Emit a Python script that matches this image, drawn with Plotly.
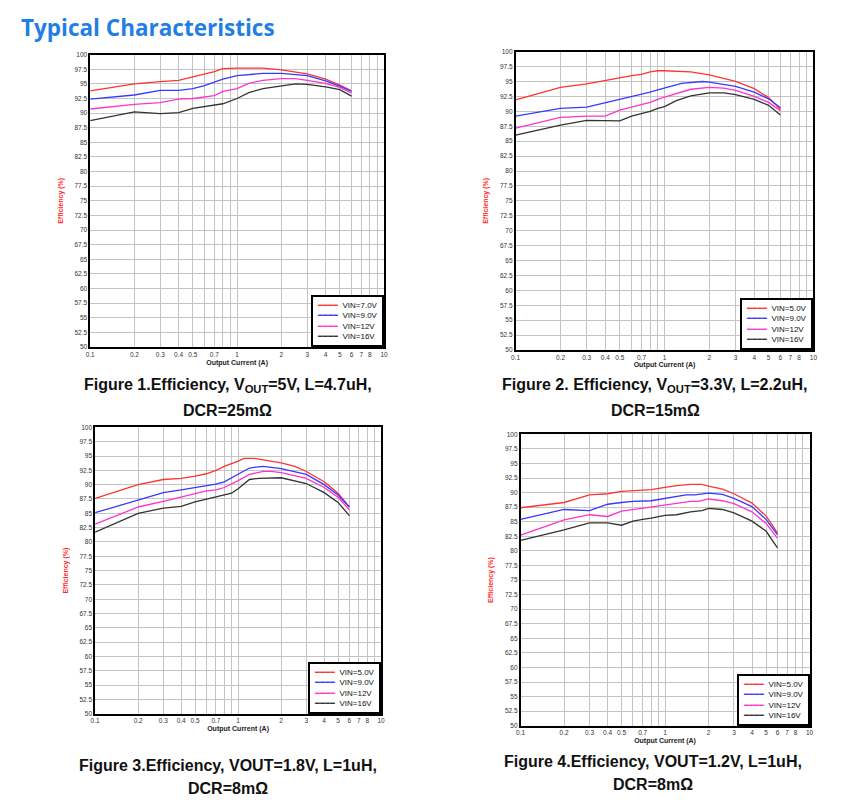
import plotly.graph_objects as go

# ---- data ----
legend_names_1 = ['VIN=7.0V', 'VIN=9.0V', 'VIN=12V', 'VIN=16V']
legend_names = ['VIN=5.0V', 'VIN=9.0V', 'VIN=12V', 'VIN=16V']

# Figure 1, Vout=5V
f1_x_red = [0.1, 0.2, 0.3, 0.4, 0.5, 0.7, 0.8, 1, 1.5, 2, 3, 4, 5, 6]
f1_y_red = [93.8, 95.0, 95.4, 95.6, 96.2, 97.1, 97.6, 97.7, 97.7, 97.4, 96.7, 95.8, 94.8, 93.8]
f1_x_blue = [0.1, 0.2, 0.3, 0.4, 0.5, 0.6, 0.7, 0.8, 1, 1.5, 2, 3, 4, 5, 6]
f1_y_blue = [92.4, 93.1, 93.9, 93.9, 94.2, 94.7, 95.3, 95.8, 96.4, 96.8, 96.8, 96.4, 95.5, 94.6, 93.7]
f1_x_mag = [0.1, 0.2, 0.3, 0.4, 0.5, 0.7, 0.8, 1, 1.2, 1.5, 2, 2.5, 3, 4, 5, 6]
f1_y_mag = [90.7, 91.5, 91.8, 92.4, 92.5, 93.0, 93.7, 94.2, 95.1, 95.6, 95.9, 95.9, 95.6, 95.1, 94.4, 93.4]
f1_x_blk = [0.1, 0.2, 0.3, 0.4, 0.5, 0.7, 0.8, 1, 1.2, 1.5, 2, 2.5, 3, 4, 5, 6]
f1_y_blk = [88.7, 90.2, 89.9, 90.1, 90.8, 91.4, 91.6, 92.5, 93.5, 94.2, 94.7, 95.0, 94.9, 94.5, 94.0, 92.9]

# Figure 2, Vout=3.3V
f2_x_red = [0.1, 0.2, 0.3, 0.4, 0.5, 0.6, 0.7, 0.8, 0.9, 1, 1.5, 2, 3, 4, 5, 6]
f2_y_red = [91.9, 94.0, 94.6, 95.1, 95.6, 96.0, 96.2, 96.6, 96.8, 96.8, 96.6, 96.1, 95.0, 93.8, 92.3, 90.3]
f2_x_blue = [0.1, 0.2, 0.3, 0.4, 0.5, 0.7, 0.8, 0.9, 1, 1.3, 1.8, 2, 3, 4, 5, 6]
f2_y_blue = [89.2, 90.5, 90.7, 91.4, 92.0, 92.8, 93.2, 93.6, 93.9, 94.7, 95.0, 94.9, 94.2, 93.2, 92.1, 90.6]
f2_x_mag = [0.1, 0.2, 0.3, 0.4, 0.5, 0.6, 0.7, 0.8, 0.9, 1, 1.5, 2, 2.5, 3, 4, 5, 6]
f2_y_mag = [87.2, 89.0, 89.2, 89.2, 90.2, 90.7, 91.1, 91.5, 92.0, 92.4, 93.7, 94.0, 93.9, 93.5, 92.5, 91.5, 90.1]
f2_x_blk = [0.1, 0.2, 0.3, 0.4, 0.5, 0.6, 0.7, 0.8, 0.9, 1, 1.2, 1.5, 2, 2.5, 3, 4, 5, 6]
f2_y_blk = [86.0, 87.7, 88.5, 88.4, 88.4, 89.2, 89.6, 90.0, 90.5, 90.8, 91.8, 92.6, 93.1, 93.1, 92.8, 92.0, 91.0, 89.4]

# Figure 3, Vout=1.8V
f3_x_red = [0.1, 0.2, 0.3, 0.4, 0.5, 0.6, 0.7, 0.8, 1, 1.1, 1.3, 1.6, 2, 2.5, 3, 4, 5, 6]
f3_y_red = [87.6, 90.0, 90.9, 91.1, 91.5, 91.9, 92.5, 93.2, 94.1, 94.6, 94.6, 94.2, 93.8, 93.2, 92.3, 90.5, 88.5, 86.1]
f3_x_blue = [0.1, 0.2, 0.3, 0.4, 0.5, 0.7, 0.8, 1, 1.2, 1.5, 2, 3, 4, 5, 6]
f3_y_blue = [85.1, 87.3, 88.6, 89.1, 89.5, 90.1, 90.5, 91.8, 92.9, 93.2, 92.8, 91.8, 90.0, 88.2, 86.1]
f3_x_mag = [0.1, 0.2, 0.3, 0.4, 0.5, 0.6, 0.7, 0.8, 1, 1.2, 1.5, 1.7, 2, 3, 4, 5, 6]
f3_y_mag = [83.1, 86.1, 87.1, 87.8, 88.4, 88.9, 89.1, 89.5, 90.7, 91.8, 92.3, 92.3, 92.1, 91.1, 89.5, 87.8, 85.6]
f3_x_blk = [0.1, 0.2, 0.3, 0.4, 0.5, 0.7, 0.8, 0.9, 1, 1.2, 1.4, 2, 3, 4, 5, 6]
f3_y_blk = [81.7, 85.0, 85.9, 86.2, 87.0, 87.9, 88.2, 88.5, 89.3, 90.9, 91.1, 91.2, 90.2, 88.6, 86.9, 84.6]

# Figure 4, Vout=1.2V
f4_x_red = [0.1, 0.2, 0.3, 0.4, 0.5, 0.7, 0.8, 1, 1.2, 1.5, 1.8, 2, 2.5, 3, 4, 5, 6]
f4_y_red = [87.4, 88.3, 89.6, 89.8, 90.2, 90.5, 90.5, 90.9, 91.2, 91.4, 91.4, 91.1, 90.6, 89.8, 88.2, 86.0, 83.1]
f4_x_blue = [0.1, 0.2, 0.3, 0.4, 0.5, 0.6, 0.8, 1, 1.2, 1.4, 1.6, 2, 2.5, 3, 4, 5, 6]
f4_y_blue = [85.4, 87.1, 86.9, 88.0, 88.3, 88.5, 88.6, 89.0, 89.2, 89.6, 89.6, 89.9, 89.7, 89.0, 87.6, 85.4, 82.8]
f4_x_mag = [0.1, 0.2, 0.3, 0.4, 0.5, 0.7, 0.8, 1, 1.5, 1.7, 2, 2.5, 3, 4, 5, 6]
f4_y_mag = [82.7, 85.3, 86.2, 85.9, 86.8, 87.3, 87.5, 87.8, 88.5, 88.5, 88.9, 88.6, 88.1, 86.7, 84.7, 82.2]
f4_x_blk = [0.1, 0.2, 0.3, 0.4, 0.5, 0.6, 0.7, 0.8, 1, 1.2, 1.5, 1.8, 2, 2.5, 3, 4, 5, 6]
f4_y_blk = [81.8, 83.6, 84.8, 84.8, 84.4, 85.1, 85.4, 85.6, 86.1, 86.2, 86.7, 86.9, 87.3, 87.1, 86.5, 85.1, 83.4, 80.5]

# labelled x ticks, plus unlabelled gridline positions
x_tickvals = [0.1, 0.2, 0.3, 0.4, 0.5, 0.7, 1, 2, 3, 4, 5, 6, 7, 8, 10]
x_ticktext = ['0.1', '0.2', '0.3', '0.4', '0.5', '0.7', '1', '2', '3', '4', '5', '6', '7', '8', '10']
x_grid_only = [0.6, 0.8, 0.9, 9]
y_tickvals = [50 + 2.5 * i for i in range(21)]
y_ticktext = ['50', '52.5', '55', '57.5', '60', '62.5', '65', '67.5', '70', '72.5', '75',
              '77.5', '80', '82.5', '85', '87.5', '90', '92.5', '95', '97.5', '100']

captions = [
    ('Figure 1.Efficiency, V<sub>OUT</sub>=5V, L=4.7uH,', 'DCR=25mΩ'),
    ('Figure 2. Efficiency, V<sub>OUT</sub>=3.3V, L=2.2uH,', 'DCR=15mΩ'),
    ('Figure 3.Efficiency, VOUT=1.8V, L=1uH,', 'DCR=8mΩ'),
    ('Figure 4.Efficiency, VOUT=1.2V, L=1uH,', 'DCR=8mΩ'),
]

colors = ['#FF3333', '#3838FF', '#FF33CC', '#333333']

# page body has an 8px margin, so lay out in reference pixels minus that
OFF = 8
W, H = 861 - OFF, 812 - OFF
# plot boxes in reference pixels: left, right, top, bottom
boxes = [(86, 383, 51, 346), (516, 817, 48, 349), (91, 380, 427, 716), (521, 813, 434, 728)]
caption_pos = [(225, 385, 410), (657, 385, 410), (225, 768, 791), (655, 764, 787)]


def px(x):
    return (x - OFF) / W


def py(y):
    return 1 - (y - OFF) / H


series = [
    (legend_names_1, [(f1_x_red, f1_y_red), (f1_x_blue, f1_y_blue), (f1_x_mag, f1_y_mag), (f1_x_blk, f1_y_blk)]),
    (legend_names, [(f2_x_red, f2_y_red), (f2_x_blue, f2_y_blue), (f2_x_mag, f2_y_mag), (f2_x_blk, f2_y_blk)]),
    (legend_names, [(f3_x_red, f3_y_red), (f3_x_blue, f3_y_blue), (f3_x_mag, f3_y_mag), (f3_x_blk, f3_y_blk)]),
    (legend_names, [(f4_x_red, f4_y_red), (f4_x_blue, f4_y_blue), (f4_x_mag, f4_y_mag), (f4_x_blk, f4_y_blk)]),
]

fig = go.Figure()
layout = {}
annotations = []
tick_font = dict(size=6.5, color='#333333', family='Liberation Sans')
grid = '#C4C4C4'

for i, (names, lines) in enumerate(series):
    n = '' if i == 0 else str(i + 1)
    l, r, t, b = boxes[i]
    xd = [px(l), px(r)]
    yd = [py(b), py(t)]
    for name, (xs, ys), c in zip(names, lines, colors):
        fig.add_trace(go.Scatter(x=xs, y=ys, mode='lines', name=name,
                                 line=dict(color=c, width=1.3),
                                 xaxis='x' + n, yaxis='y' + n, showlegend=False))
    layout['xaxis' + n] = dict(
        domain=xd, anchor='y' + n, type='log', range=[-1, 1],
        tickvals=x_tickvals, ticktext=x_ticktext,
        minor=dict(tickvals=x_grid_only, showgrid=True, gridcolor=grid, gridwidth=1, ticks=''),
        showgrid=True, gridcolor=grid, gridwidth=1,
        showline=True, linecolor='black', linewidth=1.5, mirror=True,
        ticks='', tickfont=tick_font,
        title=dict(text='<b>Output Current (A)</b>', standoff=3,
                   font=dict(size=7, color='#222222', family='Liberation Sans')),
        zeroline=False,
    )
    layout['yaxis' + n] = dict(
        domain=yd, anchor='x' + n, range=[50, 100],
        tickvals=y_tickvals, ticktext=y_ticktext,
        showgrid=True, gridcolor=grid, gridwidth=1,
        showline=True, linecolor='black', linewidth=1.5, mirror=True,
        ticks='', tickfont=tick_font,
        title=dict(text='<b>Efficiency (%)</b>', standoff=10,
                   font=dict(size=7, color='#FF2A2A', family='Liberation Sans')),
        zeroline=False,
    )
    # compact boxed legend in the lower right corner of each plot
    rows = ['<span style="color:%s">━━━━</span>  %s' % (c, name)
            for name, c in zip(names, colors)]
    annotations.append(dict(
        text='<br>'.join(rows), x=xd[1], y=yd[0], xref='paper', yref='paper',
        xanchor='right', yanchor='bottom', align='left', showarrow=False,
        bgcolor='white', bordercolor='black', borderwidth=2, borderpad=4,
        font=dict(size=8, color='#111111', family='Liberation Sans'),
    ))
    cx, y1, y2 = caption_pos[i]
    line1, line2 = captions[i]
    for txt, yy in ((line1, y1), (line2, y2)):
        annotations.append(dict(
            text='<b>' + txt + '</b>', x=px(cx), y=py(yy), xref='paper', yref='paper',
            xanchor='center', yanchor='middle', showarrow=False,
            font=dict(size=16, color='#111111', family='Liberation Sans'),
        ))

annotations.append(dict(
    text='<b>Typical Characteristics</b>', x=px(15), y=1, xref='paper', yref='paper',
    xanchor='left', yanchor='top', valign='middle', height=29, borderpad=0,
    showarrow=False,
    font=dict(size=22.5, color='#1F7FE5', family='Open Sans'),
))

fig.update_layout(
    width=W, height=H,
    margin=dict(l=0, r=0, t=0, b=0),
    paper_bgcolor='white', plot_bgcolor='white',
    showlegend=False,
    annotations=annotations,
    **layout,
)

fig.write_html('out.html')
